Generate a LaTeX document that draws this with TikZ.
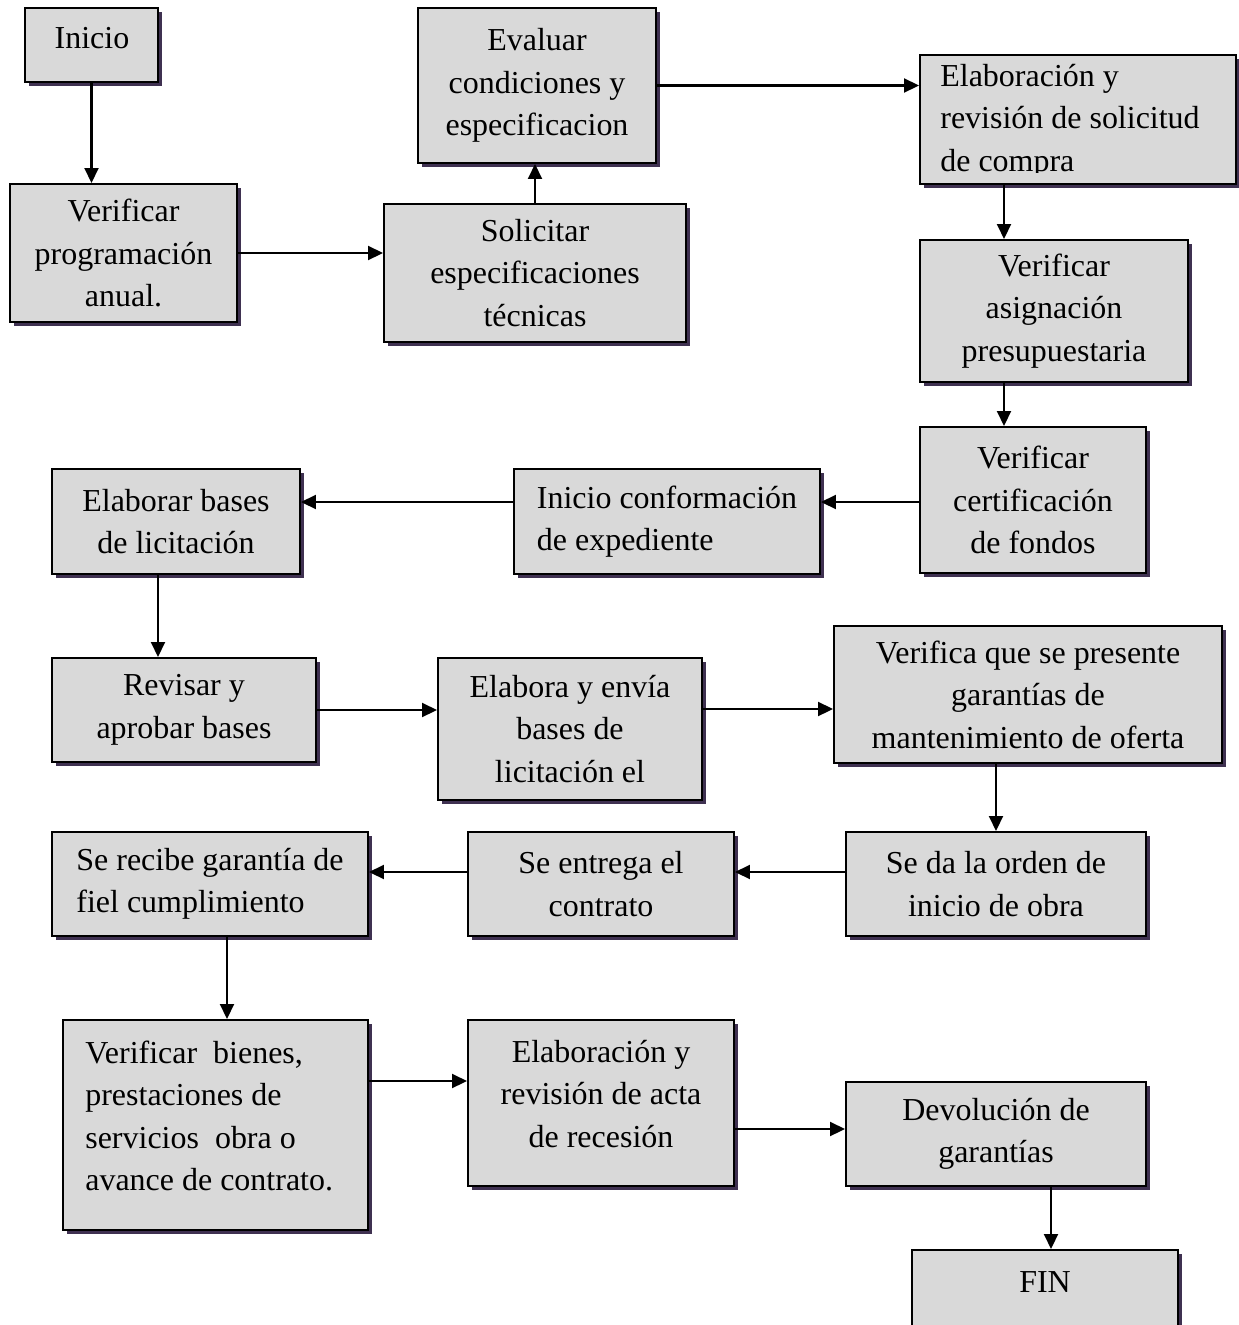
\documentclass[tikz,border=0pt]{standalone}
\usepackage{fontspec}
\setmainfont{Liberation Serif}
\usetikzlibrary{arrows.meta,shadows,calc}
\definecolor{boxfill}{RGB}{217,217,217}
\definecolor{shadowc}{RGB}{63,49,81}
\tikzset{
  flowbox/.style={draw=black, line width=1.15pt, fill=boxfill, rectangle,
    drop shadow={shadow xshift=0.075cm, shadow yshift=-0.075cm, fill=shadowc, opacity=1},
    inner sep=0pt, align=center, font=\fontsize{18.2pt}{24.2pt}\selectfont},
  flowtext/.style={inner sep=0pt, font=\fontsize{18.2pt}{24.2pt}\selectfont},
  arr/.style={line width=1.15pt, -{Triangle[length=0.3cm,width=0.28cm]}}
}
\begin{document}
\begin{tikzpicture}[x=0.02cm, y=-0.02cm]
\useasboundingbox (0,0) rectangle (1239,1325);
\clip (0,0) rectangle (1239,1325);
\fill[white] (0,0) rectangle (1239,1325);

% boxes
\node[flowbox, minimum width=2.66cm, minimum height=1.48cm] (ini) at (91.5,45) {};
\node[flowtext] (tini) at (92,38) {Inicio};
\node[flowbox, minimum width=4.54cm, minimum height=2.76cm] (vp) at (123.5,253) {Verificar\\programación\\anual.};
\node[flowbox, minimum width=6.04cm, minimum height=2.76cm] (sol) at (535,273) {Solicitar\\especificaciones\\técnicas};
\node[flowbox, minimum width=4.76cm, minimum height=3.10cm] (eva) at (537,85.5) {Evaluar\\condiciones y\\especificacion};
\node[flowbox, minimum width=6.32cm, minimum height=2.58cm] (ela) at (1078,119.5) {};
\begin{scope}
\clip (920,55) rectangle (1236,172);
\node[flowtext, align=left, anchor=west] (tela) at (940,121) {Elaboración y\\revisión de solicitud\\de compra};
\end{scope}
\node[flowbox, minimum width=5.36cm, minimum height=2.84cm] (asi) at (1054,311) {Verificar\\asignación\\presupuestaria};
\node[flowbox, minimum width=4.52cm, minimum height=2.92cm] (cer) at (1033,500) {Verificar\\certificación\\de fondos};
\node[flowbox, align=left, minimum width=6.12cm, minimum height=2.10cm] (con) at (667,521.5) {Inicio conformación\\de expediente};
\node[flowbox, minimum width=4.96cm, minimum height=2.10cm] (bas) at (176,521.5) {Elaborar bases\\de licitación};
\node[flowbox, minimum width=5.28cm, minimum height=2.08cm] (rev) at (184,710) {Revisar y\\aprobar bases};
\node[flowbox, minimum width=5.28cm, minimum height=2.84cm] (env) at (570,729) {Elabora y envía\\bases de\\licitación el};
\node[flowbox, minimum width=7.76cm, minimum height=2.74cm] (gar) at (1028,694.5) {Verifica que se presente\\garantías de\\mantenimiento de oferta};
\node[flowbox, minimum width=6.00cm, minimum height=2.08cm] (ord) at (996,884) {Se da la orden de\\inicio de obra};
\node[flowbox, minimum width=5.32cm, minimum height=2.08cm] (ent) at (601,884) {Se entrega el\\contrato};
\node[flowbox, align=left, minimum width=6.32cm, minimum height=2.08cm] (fie) at (210,884) {Se recibe garantía de\\fiel cumplimiento};
\node[flowbox, minimum width=6.10cm, minimum height=4.20cm] (bie) at (215.5,1125) {};
\node[flowtext, align=left, anchor=west] (tbie) at (85,1116) {Verificar\ \ bienes,\\prestaciones de\\servicios\ \ obra o\\avance de contrato.};
\node[flowbox, minimum width=5.32cm, minimum height=3.32cm] (act) at (601,1103) {};
\node[flowtext, align=center] (tact) at (601,1094) {Elaboración y\\revisión de acta\\de recesión};
\node[flowbox, minimum width=6.00cm, minimum height=2.08cm] (dev) at (996,1134) {Devolución de\\garantías};
\node[flowbox, minimum width=5.32cm, minimum height=1.90cm] (fin) at (1045,1297.5) {};
\node[flowtext] (tfin) at (1045,1282) {FIN};

% helper coordinates for connector columns and rows
\coordinate (colA) at (1004,0);
\coordinate (colB) at (158,0);
\coordinate (colC) at (227,0);
\coordinate (colD) at (1051,0);
\coordinate (rowA) at (0,502);
\coordinate (rowB) at (0,709);
\coordinate (rowC) at (0,872);
\coordinate (rowD) at (0,1081);
\coordinate (rowE) at (0,1129);

% connectors
\draw[arr] (ini.south) -- (ini.south |- vp.north);
\draw[arr] (vp.east) -- (sol.west |- vp.east);
\draw[arr] (sol.north) -- (sol.north |- eva.south);
\draw[arr] (eva.east) -- (ela.west |- eva.east);
\draw[arr] (ela.south -| colA) -- (asi.north -| colA);
\draw[arr] (asi.south -| colA) -- (cer.north -| colA);
\draw[arr] (cer.west |- rowA) -- (con.east |- rowA);
\draw[arr] (con.west |- rowA) -- (bas.east |- rowA);
\draw[arr] (bas.south -| colB) -- (rev.north -| colB);
\draw[arr] (rev.east) -- (env.west |- rev.east);
\draw[arr] (env.east |- rowB) -- (gar.west |- rowB);
\draw[arr] (gar.south -| ord.north) -- (ord.north);
\draw[arr] (ord.west |- rowC) -- (ent.east |- rowC);
\draw[arr] (ent.west |- rowC) -- (fie.east |- rowC);
\draw[arr] (fie.south -| colC) -- (bie.north -| colC);
\draw[arr] (bie.east |- rowD) -- (act.west |- rowD);
\draw[arr] (act.east |- rowE) -- (dev.west |- rowE);
\draw[arr] (dev.south -| colD) -- (fin.north -| colD);
\end{tikzpicture}
\end{document}
